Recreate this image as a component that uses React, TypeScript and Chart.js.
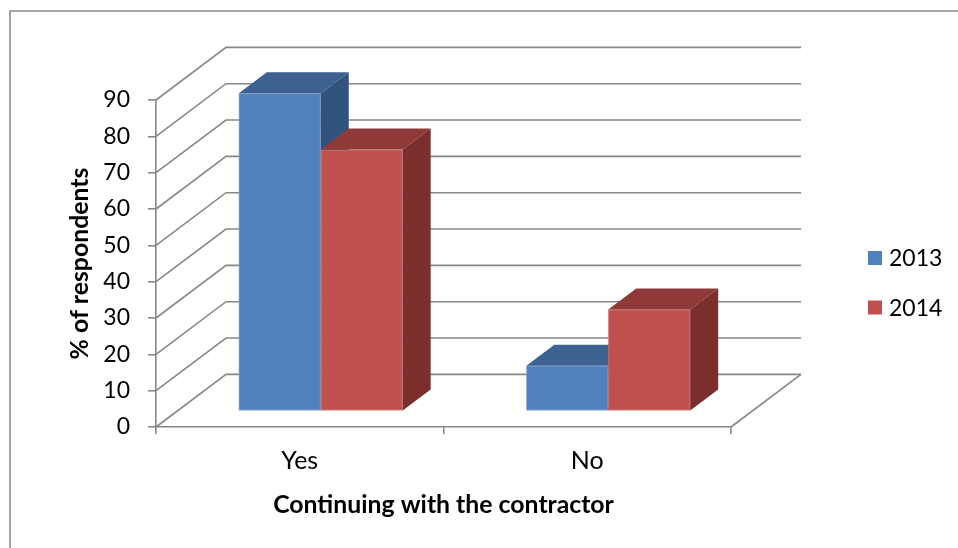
import React, { useEffect, useRef } from "react";
import { Chart, registerables } from "chart.js";

Chart.register(...registerables);

// ---- data ----
const categories = ["Yes", "No"];
const seriesNames = ["2013", "2014"];
const values2013 = [87.5, 12.5];
const values2014 = [72, 28];
const yMin = 0;
const yMax = 90;
const yStep = 10;

// ---- styling ----
const FONT = "Lato, 'Liberation Sans', sans-serif";
const GRID = "#878787";
const FRONT = ["#4F81BD", "#C0504D"];
const TOP = ["#3D6190", "#8F3A38"];
const SIDE = ["#32537E", "#7B2F2D"];

// depth of the 3-D floor / side wall, in pixels
const WALL_DX = 70;
const WALL_DY = 52.6;
// bars sit between these fractions of the depth
const BAR_FRONT = 0.3;
const BAR_BACK = 0.7;

const threeDPlugin = {
  id: "threeD",
  beforeDraw(chart: any) {
    const { ctx, chartArea, scales } = chart;
    const y = scales.y;
    const { left, right, bottom } = chartArea;
    ctx.save();
    // outer frame
    ctx.strokeStyle = GRID;
    ctx.lineWidth = 1.5;
    ctx.beginPath();
    ctx.moveTo(10, chart.height);
    ctx.lineTo(10, 11);
    ctx.lineTo(chart.width, 11);
    ctx.stroke();

    ctx.lineWidth = 1.6;
    ctx.strokeStyle = GRID;
    // side wall diagonals + back wall gridlines
    for (const t of y.ticks) {
      const py = y.getPixelForValue(t.value);
      ctx.beginPath();
      ctx.moveTo(left, py);
      ctx.lineTo(left + WALL_DX, py - WALL_DY);
      ctx.lineTo(right + WALL_DX, py - WALL_DY);
      ctx.stroke();
    }
    // floor right edge
    ctx.beginPath();
    ctx.moveTo(right, bottom);
    ctx.lineTo(right + WALL_DX, bottom - WALL_DY);
    ctx.stroke();
    ctx.restore();
  },
  beforeDatasetsDraw(chart: any) {
    const { ctx } = chart;
    const fx = WALL_DX * BAR_FRONT;
    const fy = -WALL_DY * BAR_FRONT;
    const dx = WALL_DX * (BAR_BACK - BAR_FRONT);
    const dy = -WALL_DY * (BAR_BACK - BAR_FRONT);
    ctx.save();
    chart.data.datasets.forEach((_ds: any, di: number) => {
      const meta = chart.getDatasetMeta(di);
      meta.data.forEach((bar: any) => {
        const { x, y, base, width } = bar.getProps(["x", "y", "base", "width"], true);
        const l = x - width / 2 + fx;
        const r = x + width / 2 + fx;
        const t = y + fy;
        const b = base + fy;
        // front face
        ctx.fillStyle = FRONT[di];
        ctx.fillRect(l, t, r - l, b - t);
        ctx.strokeStyle = "rgba(255,255,255,0.18)";
        ctx.lineWidth = 1;
        ctx.strokeRect(l + 0.5, t + 0.5, r - l - 1, b - t - 1);
        // top face
        ctx.fillStyle = TOP[di];
        ctx.beginPath();
        ctx.moveTo(l, t);
        ctx.lineTo(r, t);
        ctx.lineTo(r + dx, t + dy);
        ctx.lineTo(l + dx, t + dy);
        ctx.closePath();
        ctx.fill();
        // side face
        ctx.fillStyle = SIDE[di];
        ctx.beginPath();
        ctx.moveTo(r, t);
        ctx.lineTo(r + dx, t + dy);
        ctx.lineTo(r + dx, b + dy);
        ctx.lineTo(r, b);
        ctx.closePath();
        ctx.fill();
      });
    });
    ctx.restore();
    return false;
  },
  afterDraw(chart: any) {
    const { ctx } = chart;
    ctx.save();
    ctx.font = `23px ${FONT}`;
    ctx.textBaseline = "middle";
    ctx.textAlign = "left";
    chart.data.datasets.forEach((ds: any, i: number) => {
      const cy = 258 + i * 49.5;
      ctx.fillStyle = ds.backgroundColor;
      ctx.fillRect(868, cy - 7, 14, 14);
      ctx.fillStyle = "#000";
      ctx.fillText(ds.label, 889, cy + 1);
    });
    ctx.restore();
  },
};

export default function App() {
  const ref = useRef<HTMLCanvasElement>(null);

  useEffect(() => {
    document.body.style.margin = "0";
    const canvas = ref.current!;
    const chart = new Chart(canvas, {
      type: "bar",
      data: {
        labels: categories,
        datasets: [
          { label: seriesNames[0], data: values2013, backgroundColor: FRONT[0] },
          { label: seriesNames[1], data: values2014, backgroundColor: FRONT[1] },
        ],
      },
      options: {
        responsive: false,
        animation: false,
        devicePixelRatio: 1,
        layout: { padding: { left: 0, top: 100, right: 227, bottom: 0 } },
        datasets: { bar: { barPercentage: 1, categoryPercentage: 0.57 } },
        plugins: { legend: { display: false }, tooltip: { enabled: false } },
        scales: {
          x: {
            afterFit: (s: any) => { s.height = 121; },
            grid: { drawOnChartArea: false, drawTicks: true, tickLength: 7, color: GRID, lineWidth: 1.6, offset: true },
            border: { display: true, color: GRID, width: 1.6 },
            ticks: { color: "#000", font: { family: FONT, size: 25 }, padding: 12 },
            title: {
              display: true,
              text: "Continuing with the contractor",
              color: "#000",
              font: { family: FONT, size: 24.8, weight: "bold" },
              padding: { top: 0, bottom: 28 },
            },
          },
          y: {
            min: yMin,
            max: yMax,
            afterFit: (s: any) => { s.width = 156; },
            grid: { drawOnChartArea: false, drawTicks: true, tickLength: 8, color: GRID, lineWidth: 1.6 },
            border: { display: true, color: GRID, width: 1.6 },
            ticks: { stepSize: yStep, color: "#000", font: { family: FONT, size: 23 }, padding: 18 },
            title: {
              display: true,
              text: "% of respondents",
              color: "#000",
              font: { family: FONT, size: 24.8, weight: "bold" },
              padding: { top: 65, bottom: 0 },
            },
          },
        },
      },
      plugins: [threeDPlugin],
    });
    return () => chart.destroy();
  }, []);

  return (
    <div style={{ width: 958, height: 548, background: "#fff" }}>
      <canvas ref={ref} width={958} height={548} style={{ display: "block" }} />
    </div>
  );
}
